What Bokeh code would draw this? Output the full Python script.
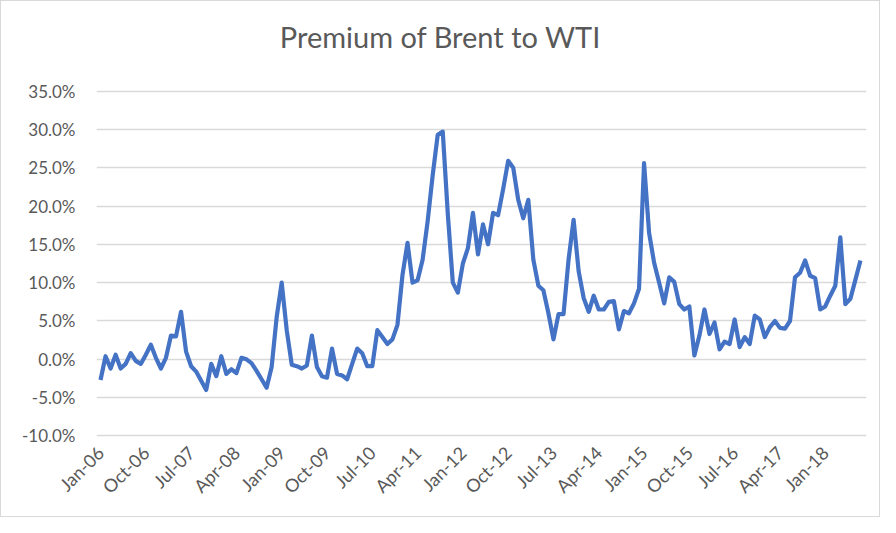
import numpy as np
from bokeh.plotting import figure
from bokeh.models import FixedTicker, PrintfTickFormatter, Range1d, Label
from bokeh.embed import file_html
from bokeh.resources import INLINE

# Premium of Brent to WTI (%), monthly Jan-06 .. Aug-18
premium = [
    -2.7, 0.4, -1.2, 0.6, -1.2, -0.6, 0.8, -0.2, -0.6, 0.6,
    1.9, 0.2, -1.2, 0.2, 3.1, 3.0, 6.2, 1.0, -0.9, -1.6,
    -2.8, -4.0, -0.6, -2.2, 0.4, -1.9, -1.3, -1.8, 0.2, 0.0,
    -0.5, -1.5, -2.6, -3.7, -1.0, 5.5, 10.0, 3.8, -0.7, -0.9,
    -1.2, -0.8, 3.1, -1.0, -2.2, -2.4, 1.4, -1.9, -2.1, -2.6,
    -0.6, 1.4, 0.8, -0.9, -0.9, 3.8, 2.9, 2.0, 2.6, 4.5,
    11.0, 15.2, 10.0, 10.3, 13.0, 18.0, 24.0, 29.3, 29.7, 19.0,
    10.0, 8.7, 12.5, 14.5, 19.1, 13.7, 17.6, 15.0, 19.1, 18.8,
    22.2, 25.9, 25.0, 20.8, 18.4, 20.8, 13.0, 9.6, 9.0, 6.0,
    2.6, 5.9, 5.9, 13.0, 18.2, 11.5, 8.0, 6.2, 8.3, 6.5,
    6.5, 7.5, 7.6, 3.9, 6.3, 6.0, 7.3, 9.2, 25.6, 16.5,
    12.6, 10.0, 7.3, 10.7, 10.1, 7.2, 6.5, 6.9, 0.5, 3.1,
    6.5, 3.3, 4.8, 1.3, 2.3, 2.0, 5.2, 1.6, 2.9, 2.0,
    5.7, 5.2, 2.9, 4.2, 5.0, 4.1, 4.0, 5.0, 10.7, 11.3,
    12.9, 10.9, 10.6, 6.5, 6.9, 8.3, 9.6, 15.9, 7.2, 7.9,
    10.4, 12.9,
]
month_index = list(range(len(premium)))

tick_labels = ["Jan-06", "Oct-06", "Jul-07", "Apr-08", "Jan-09", "Oct-09",
               "Jul-10", "Apr-11", "Jan-12", "Oct-12", "Jul-13", "Apr-14",
               "Jan-15", "Oct-15", "Jul-16", "Apr-17", "Jan-18"]
label_step = 9
y_ticks = [-10, -5, 0, 5, 10, 15, 20, 25, 30, 35]
chart_title = "Premium of Brent to WTI"

FONT = "Lato"
GRAY = "#595959"

# frame extends above the 35% line so the title can sit inside it
p = figure(width=880, height=517, output_backend="svg", toolbar_location=None,
           x_range=Range1d(-0.8, 152.2), y_range=Range1d(-10.2, 44.07),
           min_border_left=95, min_border_right=15, min_border_top=20,
           min_border_bottom=81)
p.outline_line_color = None
p.background_fill_color = "white"
p.border_fill_color = "white"
p.styles = {"border": "1px solid #d9d9d9", "box-sizing": "border-box"}

p.add_layout(Label(x=344, y=401, x_units="screen", y_units="screen",
                   text=chart_title, text_font=FONT, text_font_size="29px",
                   text_color=GRAY, text_align="center",
                   text_baseline="middle"))

p.line(month_index, premium, line_color="#4472C4", line_width=4.2,
       line_join="round")

tick_pos = [i * label_step for i in range(len(tick_labels))]
p.xaxis.ticker = FixedTicker(ticks=tick_pos)
p.xaxis.major_label_overrides = {pos: lab for pos, lab in zip(tick_pos, tick_labels)}
p.xaxis.major_label_orientation = np.pi / 4
p.yaxis.ticker = FixedTicker(ticks=y_ticks)
p.yaxis.formatter = PrintfTickFormatter(format="%.1f%%")

for ax in (p.xaxis, p.yaxis):
    ax.axis_line_color = None
    ax.major_tick_line_color = None
    ax.minor_tick_line_color = None
    ax.major_label_text_font = FONT
    ax.major_label_text_color = GRAY
p.yaxis.major_label_text_font_size = "17px"
p.xaxis.major_label_text_font_size = "18px"
p.yaxis.major_label_standoff = 15
p.xaxis.major_label_standoff = 6

p.xgrid.grid_line_color = None
p.ygrid.ticker = FixedTicker(ticks=y_ticks)
p.ygrid.grid_line_color = "#d9d9d9"
p.ygrid.grid_line_width = 1.5

open("out.html", "w").write(file_html(p, INLINE))
